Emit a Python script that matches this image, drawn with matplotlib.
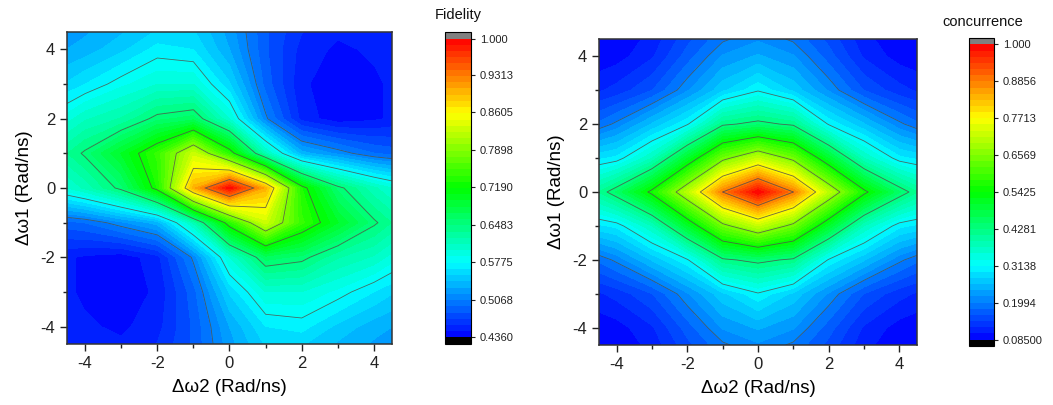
import numpy as np
import matplotlib
matplotlib.use('Agg')
import matplotlib.pyplot as plt
from matplotlib.colors import LinearSegmentedColormap
from matplotlib.ticker import MultipleLocator

plt.rcParams['font.family'] = ['Liberation Sans', 'DejaVu Sans']
plt.rcParams['axes.unicode_minus'] = False

# grid coordinates (Rad/ns)
dw2 = [-4.5, -4, -3, -2, -1, 0, 1, 2, 3, 4, 4.5]
dw1 = [4.5, 4, 3, 2, 1, 0, -1, -2, -3, -4, -4.5]

# Fidelity values, rows from dw1 = 4.5 (top) to -4.5 (bottom)
fidelity = [
    [0.525, 0.528, 0.540, 0.555, 0.555, 0.525, 0.485, 0.460, 0.450, 0.455, 0.458],
    [0.530, 0.535, 0.550, 0.570, 0.565, 0.530, 0.485, 0.455, 0.445, 0.450, 0.455],
    [0.555, 0.565, 0.585, 0.600, 0.600, 0.555, 0.490, 0.450, 0.440, 0.445, 0.450],
    [0.595, 0.610, 0.625, 0.655, 0.665, 0.600, 0.510, 0.455, 0.440, 0.445, 0.450],
    [0.635, 0.652, 0.695, 0.745, 0.830, 0.735, 0.615, 0.535, 0.515, 0.495, 0.490],
    [0.600, 0.615, 0.655, 0.730, 0.900, 0.995, 0.900, 0.730, 0.655, 0.615, 0.600],
    [0.490, 0.495, 0.515, 0.535, 0.615, 0.735, 0.830, 0.745, 0.695, 0.652, 0.635],
    [0.450, 0.445, 0.440, 0.455, 0.510, 0.600, 0.665, 0.655, 0.625, 0.610, 0.595],
    [0.450, 0.445, 0.440, 0.450, 0.490, 0.555, 0.600, 0.600, 0.585, 0.565, 0.555],
    [0.455, 0.450, 0.445, 0.455, 0.485, 0.530, 0.565, 0.570, 0.550, 0.535, 0.530],
    [0.458, 0.455, 0.450, 0.460, 0.485, 0.525, 0.555, 0.555, 0.540, 0.528, 0.525],
]

# Concurrence values, rows from dw1 = 4.5 (top) to -4.5 (bottom)
concurrence = [
    [0.085, 0.090, 0.110, 0.155, 0.195, 0.215, 0.195, 0.155, 0.110, 0.090, 0.085],
    [0.090, 0.095, 0.120, 0.170, 0.220, 0.240, 0.220, 0.170, 0.120, 0.095, 0.090],
    [0.120, 0.130, 0.160, 0.215, 0.270, 0.310, 0.270, 0.215, 0.160, 0.130, 0.120],
    [0.185, 0.205, 0.258, 0.310, 0.420, 0.440, 0.420, 0.310, 0.258, 0.205, 0.185],
    [0.290, 0.300, 0.370, 0.500, 0.640, 0.714, 0.640, 0.500, 0.370, 0.300, 0.290],
    [0.410, 0.450, 0.555, 0.705, 0.886, 0.998, 0.886, 0.705, 0.555, 0.450, 0.410],
    [0.290, 0.300, 0.370, 0.500, 0.640, 0.714, 0.640, 0.500, 0.370, 0.300, 0.290],
    [0.185, 0.205, 0.258, 0.310, 0.420, 0.440, 0.420, 0.310, 0.258, 0.205, 0.185],
    [0.120, 0.130, 0.160, 0.215, 0.270, 0.310, 0.270, 0.215, 0.160, 0.130, 0.120],
    [0.090, 0.095, 0.120, 0.170, 0.220, 0.240, 0.220, 0.170, 0.120, 0.095, 0.090],
    [0.085, 0.090, 0.110, 0.155, 0.195, 0.215, 0.195, 0.155, 0.110, 0.090, 0.085],
]

fid_ticks = [0.4360, 0.5068, 0.5775, 0.6483, 0.7190, 0.7898, 0.8605, 0.9313, 1.000]
fid_labels = ['0.4360', '0.5068', '0.5775', '0.6483', '0.7190', '0.7898', '0.8605', '0.9313', '1.000']
con_ticks = [0.0850, 0.1994, 0.3138, 0.4281, 0.5425, 0.6569, 0.7713, 0.8856, 1.000]
con_labels = ['0.08500', '0.1994', '0.3138', '0.4281', '0.5425', '0.6569', '0.7713', '0.8856', '1.000']

cmap = LinearSegmentedColormap.from_list(
    'origin_rainbow', ['#0000ff', '#00ffff', '#00ff00', '#ffff00', '#ff0000'])
cmap.set_over('#808080')
cmap.set_under('#000000')

fig = plt.figure(figsize=(10.53, 4.05), dpi=100)


def panel(rect, crect, Z, ticks, labels, title, title_xy):
    ax = fig.add_axes(rect)
    Z = np.array(Z)
    levels = np.linspace(ticks[0], ticks[-1], 49)
    cf = ax.contourf(dw2, dw1, Z, levels=levels, cmap=cmap, extend='both')
    ax.contour(dw2, dw1, Z, levels=ticks[1:-1], colors='#505050',
               linewidths=0.6, alpha=0.85)
    ax.set_xlim(-4.5, 4.5)
    ax.set_ylim(-4.5, 4.5)
    for axis in (ax.xaxis, ax.yaxis):
        axis.set_major_locator(MultipleLocator(2))
        axis.set_minor_locator(MultipleLocator(1))
    ax.tick_params(which='major', direction='out', length=5, width=1,
                   labelsize=12, colors='#222222')
    ax.tick_params(which='minor', direction='out', length=3, width=1,
                   colors='#222222')
    for s in ax.spines.values():
        s.set_linewidth(1.1)
        s.set_color('#333333')
    ax.set_xlabel('Δω2 (Rad/ns)', fontsize=13.5, labelpad=6)
    ax.set_ylabel('Δω1 (Rad/ns)', fontsize=13.5, labelpad=5)

    cax = fig.add_axes(crect)
    cb = fig.colorbar(cf, cax=cax, extend='both', extendrect=True,
                      extendfrac=0.022, ticks=ticks)
    cb.set_ticklabels(labels)
    cb.ax.tick_params(labelsize=8, length=3, width=0.8, direction='out',
                      colors='#222222')
    cb.ax.minorticks_off()
    cb.outline.set_linewidth(0.8)
    fig.text(title_xy[0], title_xy[1], title, ha='center', va='center',
             fontsize=10.5, color='#111111')


panel([67 / 1053, 61 / 405, 325 / 1053, 312 / 405],
      [445 / 1053, 61 / 405, 26 / 1053, 312 / 405],
      fidelity, fid_ticks, fid_labels, 'Fidelity', (458 / 1053, 1 - 15 / 405))
panel([599 / 1053, 60 / 405, 318 / 1053, 306 / 405],
      [969 / 1053, 59 / 405, 25 / 1053, 308 / 405],
      concurrence, con_ticks, con_labels, 'concurrence', (983 / 1053, 1 - 22 / 405))

fig.savefig('out.png', dpi=100)
